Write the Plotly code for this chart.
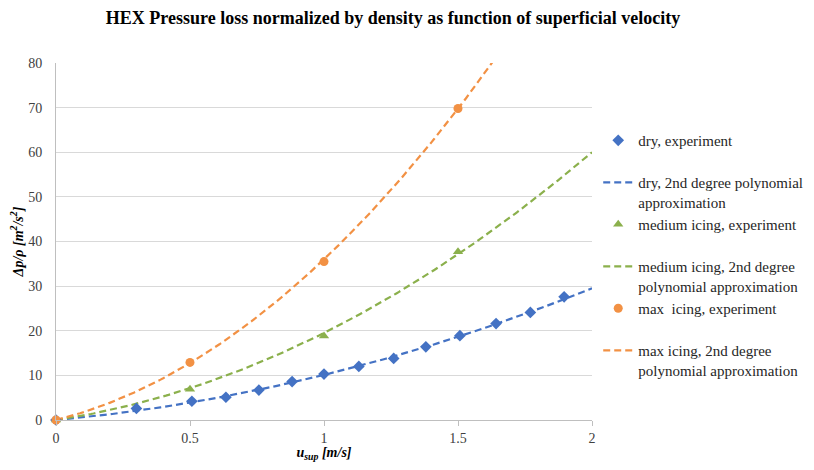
import numpy as np
import plotly.graph_objects as go

# ---- data ----
dry_u = [0.0, 0.30, 0.507, 0.634, 0.757, 0.881, 1.0, 1.13, 1.26, 1.38, 1.507, 1.642, 1.77, 1.896]
dry_dp = [0.0, 2.6, 4.2, 5.1, 6.7, 8.6, 10.3, 12.0, 13.8, 16.4, 18.9, 21.6, 24.1, 27.6]

med_u = [0.0, 0.5, 1.0, 1.5]
med_dp = [0.0, 6.9, 18.8, 37.7]

max_u = [0.0, 0.5, 1.0, 1.5]
max_dp = [0.0, 12.9, 35.5, 69.8]

# 2nd degree polynomial approximations (a*u^2 + b*u + c)
dry_fit_coef = [4.65, 5.45, 0.0]
med_fit_coef = [10.5, 9.0, 0.0]
max_fit_coef = [21.0, 15.0, 0.0]
fit_u_range = [0.0, 2.0]

x_ticks = [0, 0.5, 1, 1.5, 2]
x_tick_labels = ["0", "0.5", "1", "1.5", "2"]
y_ticks = [0, 10, 20, 30, 40, 50, 60, 70, 80]

names = [
    "dry, experiment",
    "dry, 2nd degree polynomial<br>approximation",
    "medium icing, experiment",
    "medium icing, 2nd degree<br>polynomial approximation",
    "max  icing, experiment",
    "max icing, 2nd degree<br>polynomial approximation",
]

BLUE = "#4472C4"
GREEN = "#8BB04C"
ORANGE = "#F29144"
SERIF = "Liberation Serif, Times New Roman, serif"

grid = np.linspace(fit_u_range[0], fit_u_range[1], 201)

fig = go.Figure()

series = [
    (dry_u, dry_dp, dry_fit_coef, BLUE, "diamond", 9, names[0], names[1]),
    (med_u, med_dp, med_fit_coef, GREEN, "triangle-up", 9, names[2], names[3]),
    (max_u, max_dp, max_fit_coef, ORANGE, "circle", 9, names[4], names[5]),
]

# fit lines first (drawn below markers)
for i, (u, v, coef, col, sym, sz, n_exp, n_fit) in enumerate(series):
    fig.add_trace(go.Scatter(
        x=grid, y=np.polyval(coef, grid), mode="lines", name=n_fit,
        legendgroup=f"g{2*i+1}", legendrank=2 * i + 2,
        line=dict(color=col, width=2.2, dash="7px,4px"),
    ))
for i, (u, v, coef, col, sym, sz, n_exp, n_fit) in enumerate(series):
    fig.add_trace(go.Scatter(
        x=u, y=v, mode="markers", name=n_exp + "<br> ",
        legendgroup=f"g{2*i}", legendrank=2 * i + 1, cliponaxis=False,
        marker=dict(color=col, symbol=sym, size=sz, line=dict(width=0)),
    ))

# page body adds an 8px offset; figure sized to fit the 814x470 window
fig.update_layout(
    width=798, height=454,
    margin=dict(l=48, r=214, t=55, b=42, autoexpand=False),
    paper_bgcolor="white", plot_bgcolor="white",
    font=dict(family=SERIF, size=14, color="#404040"),
    title=dict(
        text="<b>HEX Pressure loss normalized by density as function of superficial velocity</b>",
        x=0.4825, xanchor="center", y=0.978, yanchor="middle",
        font=dict(family=SERIF, size=18, color="black"),
    ),
    showlegend=True,
    legend=dict(
        x=1.0116, xanchor="left", y=0.829, yanchor="top",
        font=dict(family=SERIF, size=15, color="#262626"),
        valign="top", tracegroupgap=0, itemwidth=30,
        bgcolor="rgba(0,0,0,0)",
    ),
    xaxis=dict(
        range=[0, 2], tickvals=x_ticks, ticktext=x_tick_labels,
        showgrid=False, zeroline=False, automargin=False,
        showline=True, linecolor="#bfbfbf", linewidth=1,
        ticks="outside", ticklen=5, tickcolor="#bfbfbf",
        tickfont=dict(family=SERIF, size=14, color="#404040"),
        title=dict(text="<b><i>u<sub>sup</sub> [m/s]</i></b>",
                   font=dict(family=SERIF, size=14, color="black"), standoff=8),
    ),
    yaxis=dict(
        range=[0, 80], tickvals=y_ticks,
        showgrid=True, gridcolor="#d9d9d9", gridwidth=1,
        zeroline=False, automargin=False,
        showline=True, linecolor="#bfbfbf", linewidth=1,
        ticks="", ticklabelstandoff=10,
        tickfont=dict(family=SERIF, size=14, color="#404040"),
        title=dict(text="<b><i>Δp/ρ [m<sup>2</sup>/s<sup>2</sup>]</i></b>",
                   font=dict(family=SERIF, size=14, color="black"), standoff=14),
    ),
)

fig.write_html("out.html")
